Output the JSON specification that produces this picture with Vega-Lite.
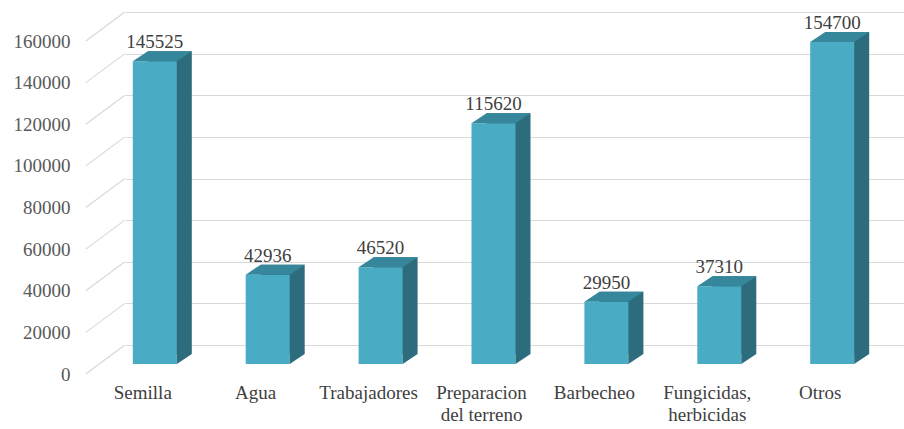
{
  "$schema": "https://vega.github.io/schema/vega-lite/v6.json",
  "width": 779,
  "height": 333,
  "autosize": {"type": "none"},
  "padding": {"left": 125, "top": 12, "right": 0, "bottom": 84},
  "background": "white",
  "config": {"view": {"stroke": null}},
  "datasets": {
    "costs": [
      {"cat": "Semilla", "value": 145525},
      {"cat": "Agua", "value": 42936},
      {"cat": "Trabajadores", "value": 46520},
      {"cat": "Preparacion del terreno", "value": 115620},
      {"cat": "Barbecheo", "value": 29950},
      {"cat": "Fungicidas, herbicidas", "value": 37310},
      {"cat": "Otros", "value": 154700}
    ],
    "ticks": [
      {"value": 0}, {"value": 20000}, {"value": 40000}, {"value": 60000}, {"value": 80000},
      {"value": 100000}, {"value": 120000}, {"value": 140000}, {"value": 160000}
    ]
  },
  "data": {"name": "costs"},
  "encoding": {
    "x": {
      "field": "cat", "type": "nominal", "sort": null,
      "scale": {"paddingInner": 0.6, "paddingOuter": 0.25},
      "axis": {
        "title": null, "domain": false, "ticks": false, "tickSize": 0, "grid": false,
        "labelAngle": 0, "labelPadding": 38, "labelOffset": -33,
        "labelFont": "Liberation Serif", "labelFontSize": 19, "labelColor": "#404040",
        "labelLineHeight": 22,
        "labelExpr": "datum.label == 'Preparacion del terreno' ? ['Preparacion', 'del terreno'] : datum.label == 'Fungicidas, herbicidas' ? ['Fungicidas,', 'herbicidas'] : datum.label"
      }
    },
    "y": {
      "field": "value", "type": "quantitative",
      "scale": {"domain": [0, 160000], "nice": false},
      "axis": {
        "title": null, "domain": false, "ticks": false, "tickSize": 0,
        "grid": true, "gridColor": "#d9d9d9", "gridWidth": 1.2,
        "values": [0, 20000, 40000, 60000, 80000, 100000, 120000, 140000, 160000],
        "format": "d", "labelPadding": 55, "labelOffset": 29,
        "labelFont": "Liberation Serif", "labelFontSize": 19, "labelColor": "#595959"
      }
    }
  },
  "layer": [
    {
      "data": {"name": "ticks"},
      "mark": {"type": "point", "shape": "M-90,29 L-51,0", "size": 4, "filled": false, "stroke": "#d9d9d9", "strokeWidth": 1.2, "opacity": 1},
      "encoding": {"x": {"datum": "Semilla", "type": "nominal"}}
    },
    {
      "mark": {"type": "bar", "width": 44, "color": "#2d6c7c", "xOffset": -6, "x2Offset": -6, "yOffset": 9, "y2Offset": 9}
    },
    {
      "mark": {"type": "bar", "width": 44, "color": "#4aabc5", "xOffset": -21, "x2Offset": -21, "yOffset": 19, "y2Offset": 19}
    },
    {
      "mark": {"type": "point", "shape": "M22,0 L37,-10 L22,-10 Z", "size": 4, "filled": true, "color": "#2d6c7c", "opacity": 1, "strokeWidth": 0, "xOffset": -21, "yOffset": 19},
      "encoding": {"y": {"datum": 0, "type": "quantitative"}}
    },
    {
      "mark": {"type": "point", "shape": "M-22,0 L22,0 L37,-10 L-7,-10 Z", "size": 4, "filled": true, "color": "#36879c", "opacity": 1, "strokeWidth": 0, "xOffset": -21, "yOffset": 19}
    },
    {
      "mark": {"type": "text", "font": "Liberation Serif", "fontSize": 19, "color": "#404040", "baseline": "alphabetic", "xOffset": -21, "yOffset": 6},
      "encoding": {"text": {"field": "value", "type": "quantitative", "format": "d"}}
    }
  ]
}
